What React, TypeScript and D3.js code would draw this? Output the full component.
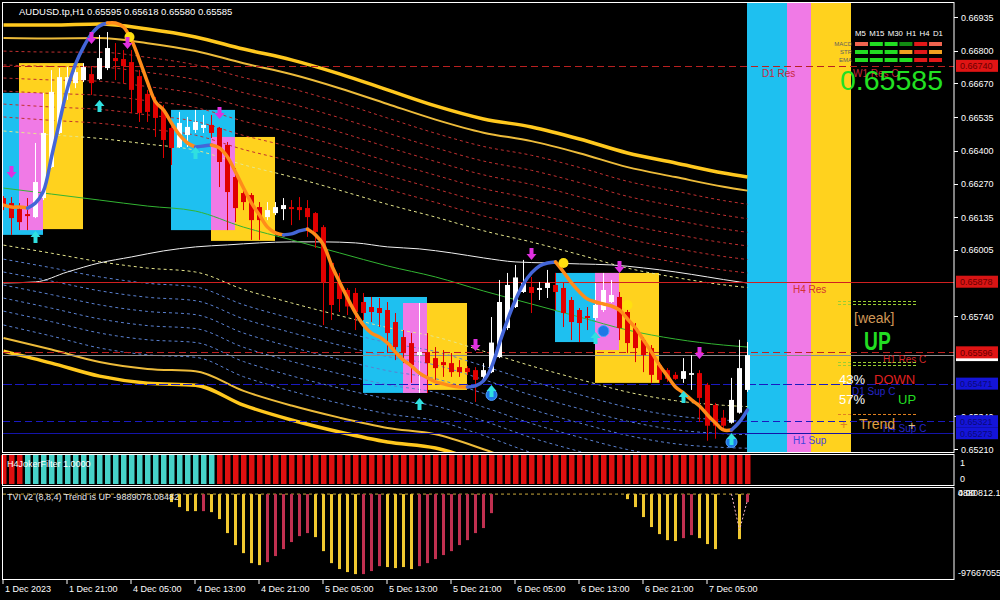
import React from "react";
import * as d3 from "d3";

// ---------- DATA ----------
const TITLE = "AUDUSD.tp,H1  0.65595 0.65618 0.65580 0.65585";
const timeTickLabels = ["1 Dec 2023", "1 Dec 21:00", "4 Dec 05:00", "4 Dec 13:00", "4 Dec 21:00", "5 Dec 05:00", "5 Dec 13:00", "5 Dec 21:00", "6 Dec 05:00", "6 Dec 13:00", "6 Dec 21:00", "7 Dec 05:00"];
const timeTickBars = [0, 8, 16, 24, 32, 40, 48, 56, 64, 72, 80, 88];
// visible price-scale labels (those hidden behind coloured price boxes are not shown)
const priceTickLabels = ["0.66935", "0.66800", "0.66670", "0.66535", "0.66400", "0.66270", "0.66135", "0.66005", "0.65740", "0.65340", "0.65210"];

const opens = [0.66212,0.66192,0.66168,0.66148,0.66136,0.66212,0.66336,0.66472,0.66632,0.66671,0.66683,0.66707,0.66687,0.66731,0.66771,0.66767,0.66755,0.66699,0.66628,0.66596,0.66564,0.66492,0.66416,0.66464,0.66484,0.66492,0.66504,0.66492,0.66424,0.66296,0.66232,0.66224,0.66176,0.66136,0.66152,0.66168,0.66176,0.66176,0.66172,0.66152,0.66096,0.65953,0.65877,0.65845,0.65833,0.65797,0.65777,0.65773,0.65765,0.65717,0.65657,0.65633,0.65585,0.65597,0.65573,0.65557,0.65553,0.65537,0.65533,0.65525,0.65498,0.65517,0.65577,0.65693,0.65777,0.65837,0.65857,0.65845,0.65853,0.65865,0.65853,0.65805,0.65765,0.65741,0.65733,0.65765,0.65797,0.65817,0.65757,0.65693,0.65645,0.65613,0.65545,0.65525,0.65506,0.65490,0.65506,0.65513,0.65466,0.65386,0.65335,0.65315,0.65355,0.65446];
const highs = [0.66220,0.66216,0.66192,0.66212,0.66432,0.66632,0.66723,0.66731,0.66735,0.66735,0.66751,0.66735,0.66863,0.66875,0.66831,0.66803,0.66803,0.66723,0.66644,0.66616,0.66584,0.66504,0.66556,0.66536,0.66564,0.66544,0.66544,0.66496,0.66436,0.66332,0.66256,0.66232,0.66196,0.66196,0.66196,0.66212,0.66204,0.66216,0.66204,0.66156,0.66104,0.65957,0.65913,0.65853,0.65853,0.65833,0.65817,0.65813,0.65797,0.65753,0.65685,0.65673,0.65793,0.65673,0.65617,0.65605,0.65593,0.65565,0.65541,0.65537,0.65553,0.65737,0.65885,0.65913,0.65945,0.65965,0.65897,0.65877,0.65925,0.65913,0.65873,0.65817,0.65773,0.65777,0.65873,0.65913,0.65885,0.65837,0.65777,0.65713,0.65657,0.65625,0.65557,0.65533,0.65517,0.65573,0.65585,0.65525,0.65474,0.65394,0.65366,0.65494,0.65646,0.65637];
const lows = [0.66164,0.66065,0.66084,0.66084,0.66132,0.66204,0.66332,0.66468,0.66604,0.66651,0.66675,0.66624,0.66683,0.66723,0.66683,0.66671,0.66552,0.66516,0.66516,0.66456,0.66372,0.66344,0.66412,0.66416,0.66472,0.66472,0.66452,0.66256,0.66084,0.66116,0.66164,0.66045,0.66045,0.66124,0.66144,0.66124,0.66104,0.66124,0.66057,0.66013,0.65705,0.65725,0.65757,0.65745,0.65685,0.65725,0.65717,0.65697,0.65593,0.65565,0.65553,0.65474,0.65434,0.65434,0.65486,0.65498,0.65498,0.65498,0.65506,0.65398,0.65486,0.65513,0.65573,0.65685,0.65773,0.65833,0.65753,0.65805,0.65813,0.65765,0.65697,0.65645,0.65637,0.65685,0.65725,0.65757,0.65793,0.65645,0.65593,0.65557,0.65517,0.65474,0.65474,0.65478,0.65486,0.65474,0.65446,0.65318,0.65243,0.65251,0.65286,0.65311,0.65351,0.65438];
const closes = [0.66184,0.66132,0.66116,0.66140,0.66276,0.66472,0.66636,0.66695,0.66695,0.66715,0.66735,0.66671,0.66771,0.66811,0.66759,0.66739,0.66644,0.66552,0.66556,0.66532,0.66444,0.66412,0.66512,0.66496,0.66516,0.66504,0.66472,0.66356,0.66236,0.66172,0.66196,0.66124,0.66124,0.66164,0.66176,0.66184,0.66168,0.66164,0.66136,0.66077,0.65877,0.65785,0.65809,0.65779,0.65757,0.65753,0.65757,0.65753,0.65673,0.65617,0.65593,0.65545,0.65597,0.65553,0.65533,0.65545,0.65517,0.65517,0.65517,0.65486,0.65525,0.65635,0.65797,0.65865,0.65895,0.65873,0.65833,0.65853,0.65873,0.65837,0.65753,0.65717,0.65713,0.65733,0.65785,0.65845,0.65825,0.65693,0.65633,0.65613,0.65585,0.65506,0.65486,0.65490,0.65490,0.65521,0.65513,0.65414,0.65303,0.65303,0.65303,0.65406,0.65533,0.65585];

// smoothed trend line (blue rising / orange falling)
const trendLine = [0.66184,0.66176,0.66176,0.66172,0.66192,0.66240,0.66376,0.66516,0.66651,0.66747,0.66815,0.66867,0.66899,0.66911,0.66911,0.66895,0.66843,0.66763,0.66675,0.66596,0.66564,0.66512,0.66464,0.66432,0.66416,0.66420,0.66424,0.66412,0.66376,0.66316,0.66252,0.66192,0.66144,0.66096,0.66073,0.66065,0.66069,0.66081,0.66088,0.66065,0.66025,0.65945,0.65877,0.65813,0.65753,0.65705,0.65673,0.65657,0.65633,0.65597,0.65565,0.65541,0.65513,0.65494,0.65478,0.65470,0.65462,0.65458,0.65458,0.65462,0.65482,0.65537,0.65633,0.65725,0.65805,0.65869,0.65913,0.65941,0.65953,0.65957,0.65917,0.65873,0.65837,0.65809,0.65797,0.65789,0.65781,0.65765,0.65729,0.65693,0.65645,0.65597,0.65545,0.65501,0.65458,0.65434,0.65406,0.65382,0.65346,0.65314,0.65286,0.65286,0.65318,0.65366];

// envelope bands around a centre MA
const bandBars = [0, 6, 12, 18, 24, 30, 36, 42, 48, 54, 60, 66, 72, 78, 84, 90, 93];
const bandCenter = [0.66252,0.66228,0.66204,0.66180,0.66160,0.66096,0.66045,0.65993,0.65941,0.65897,0.65841,0.65789,0.65737,0.65685,0.65649,0.65625,0.65617];
const bandWidth = [0.00651,0.00675,0.00703,0.00707,0.00695,0.00711,0.00719,0.00715,0.00703,0.00683,0.00687,0.00707,0.00711,0.00707,0.00703,0.00687,0.00679];
const bandLevels = [0.35, 0.436, 0.515, 0.595, 0.675, 0.755, 0.84, 0.92, 1.0];

// slow white MA
const maBars = [0,4,8,12,16,20,24,28,32,36,40,44,48,52,56,60,64,68,72,76,80,84,88,92,93];
const maValues = [0.65873,0.65877,0.65917,0.65953,0.65977,0.66001,0.66017,0.66025,0.66033,0.66037,0.66037,0.66033,0.66017,0.66009,0.65993,0.65973,0.65957,0.65953,0.65949,0.65945,0.65933,0.65917,0.65897,0.65877,0.65873];

// zone boxes: [fromBar, toBar, topPrice, bottomPrice]
const cyanBoxes = [[0, 5, 0.66632, 0.66065], [21, 29, 0.66564, 0.66084], [45, 53, 0.65817, 0.65434], [69, 74, 0.65913, 0.65637]];
const yellowBoxes = [[2, 10, 0.66751, 0.66088], [26, 34, 0.66456, 0.66041], [50, 58, 0.65793, 0.65446], [74, 82, 0.65913, 0.65474]];
const pinkBoxes = [[2, 5, 0.66632, 0.66084], [26, 29, 0.66456, 0.66084], [50, 53, 0.65793, 0.65434], [74, 77, 0.65913, 0.65605]];
const rightZones = [[93, 98, "#1EC0F0"], [98, 101, "#F07AE6"], [101, 106, "#FFD21E"]];

// signals: [bar, price]
const sellArrows = [[1, 0.66316], [11, 0.66851], [15.5, 0.66831], [27, 0.66552], [59, 0.65625], [66, 0.65989], [77, 0.65937], [87, 0.65593]];
const buyArrows = [[4, 0.66057], [12, 0.6658], [24, 0.66392], [52, 0.6539], [61, 0.65442], [74, 0.65653], [85, 0.65418], [91, 0.6525]];
const yellowDots = [[15.75, 0.66855], [70, 0.65953], [78, 0.65785]];
const blueDots = [[61, 0.65426], [75, 0.65681], [91, 0.65238]];

// support / resistance levels
const levelPrices = [0.6674, 0.65878, 0.65596, 0.65471, 0.65321, 0.65273];
const levelNames = ["D1 Res", "H4 Res", "H1 Res C", "D1 Sup C", "H4 Sup C", "H1 Sup"];
const levelLabelX = [762, 793, 883, 852, 883, 793];
const bidPrice = 0.65585;

// MTF panel
const mtfHeader = "M5 M15 M30 H1 H4 D1";
const mtfRowNames = ["MACD", "STR", "EMA"];
const mtfRows = [
  ["#F06450", "#22DD22", "#22DD22", "#128A12", "#E01818", "#F06450"],
  ["#22DD22", "#22DD22", "#22DD22", "#F0A020", "#E01818", "#F0A020"],
  ["#22DD22", "#22DD22", "#22DD22", "#22DD22", "#E01818", "#E01818"],
];

// H4 Joker filter states (runs)
const jokerRuns = [[0, 2, "down"], [3, 26, "up"], [27, 93, "down"]];

// TVI histogram (millions)
const tviValues = [0,0,0,0,0,0,0,0,0,0,0,0,0,0,0,0,0,0,0,0,0,-9.5,-15.5,-20.3,-20.3,-20.3,-21.5,-29.8,-46.5,-60.8,-70.4,-82.3,-84.7,-81.1,-73.9,-65.6,-57.2,-50.1,-46.5,-51.3,-68.0,-82.3,-89.4,-93.0,-95.4,-95.4,-91.8,-85.9,-87.0,-88.2,-87.0,-89.4,-85.9,-82.3,-77.5,-72.7,-68.0,-60.8,-54.9,-46.5,-40.5,-22.7,0,0,0,0,0,0,0,0,0,0,0,0,0,0,0,0,-6.0,-15.5,-27.4,-39.3,-47.7,-54.9,-56.0,-52.5,-48.9,-52.5,-59.6,-65.6,0,0,-53.7,-9.5];
const tviRedBars = [25,33,34,35,36,37,38,45,46,47,52,53,54,55,56,57,58,59,60,61,85,86,93];
const tviSignalBars = [91, 92, 93];
const tviSignalValues = [0, -43, -7];

// ---------- COMPONENT ----------
const FONT = "'Liberation Sans', Arial, sans-serif";

export default function App() {
  const x = d3.scaleLinear().domain([0, 93]).range([3.5, 747.5]);
  const y = d3.scaleLinear().domain([0.6521, 0.66935]).range([449, 17]);
  const yTvi = d3.scaleLinear().domain([-97.667055, 4.8808121]).range([576, 490]);
  const yJok = d3.scaleLinear().domain([0, 1]).range([484, 455]);
  const edge = (k: number) => x(k) - 0.5;

  const n = closes.length;

  const bandPaths: any[] = [];
  [1, -1].forEach((side) => {
    bandLevels.forEach((f, k) => {
      const pts = bandBars.map((b, j) => [x(b), y(bandCenter[j] + side * f * bandWidth[j])] as [number, number]);
      const d = d3.line().curve(d3.curveMonotoneX)(pts) || "";
      let stroke = "#E6E68C", sw = 1, dash = "3,3";
      if (k >= 1 && k <= 6) stroke = side > 0 ? "#C03030" : "#5A80D0";
      if (k === 7) { stroke = "#EDBB3A"; sw = 2; dash = ""; }
      if (k === 8) { stroke = "#FFC81E"; sw = 3.5; dash = ""; }
      bandPaths.push(<path key={`b${side}${k}`} d={d} fill="none" stroke={stroke} strokeWidth={sw} strokeDasharray={dash || undefined} />);
    });
  });
  const centerPath = d3.line().curve(d3.curveMonotoneX)(bandBars.map((b, j) => [x(b), y(bandCenter[j])] as [number, number])) || "";
  const maPath = d3.line().curve(d3.curveMonotoneX)(maBars.map((b, j) => [x(b), y(maValues[j])] as [number, number])) || "";

  const dir = (i: number) => (trendLine[i + 1] > trendLine[i] ? 1 : -1);
  const runs: [number, number, number][] = [];
  let start = 0;
  for (let i = 1; i < n - 1; i++) {
    if (dir(i) !== dir(i - 1)) { runs.push([start, i, dir(start)]); start = i; }
  }
  runs.push([start, n - 1, dir(start)]);
  const trendGen = d3.line<number>().x((i) => x(i)).y((i) => y(trendLine[i])).curve(d3.curveCatmullRom);

  const upArrow = (cx: number, cy: number) => `M${cx},${cy - 6} L${cx + 5},${cy} L${cx + 2},${cy} L${cx + 2},${cy + 6} L${cx - 2},${cy + 6} L${cx - 2},${cy} L${cx - 5},${cy} Z`;
  const downArrow = (cx: number, cy: number) => `M${cx},${cy + 6} L${cx + 5},${cy} L${cx + 2},${cy} L${cx + 2},${cy - 6} L${cx - 2},${cy - 6} L${cx - 2},${cy} L${cx - 5},${cy} Z`;

  const levelStyles = [
    { c: "#B82020", dash: "7,4", lc: "#C8283C" },
    { c: "#D02020", dash: "", lc: "#D23232" },
    { c: "#C02020", dash: "7,4", lc: "#D22828" },
    { c: "#1A1AC0", dash: "9,3", lc: "#2424C8" },
    { c: "#1A1AC0", dash: "7,4", lc: "#2424C8" },
    { c: "#1414A8", dash: "", lc: "#4444DD" },
  ];
  const boxFills = ["#E01414", "#D81414", "#E01414", "#1414D8", "#1414D8", "#1414D8"];
  const boxText = ["#6A0000", "#6A0000", "#6A0000", "#0A0A78", "#0A0A78", "#0A0A78"];

  const jokerColor = (i: number) => {
    const r = jokerRuns.find((r) => i >= (r[0] as number) && i <= (r[1] as number));
    return r && r[2] === "up" ? "#46D2C8" : "#E01010";
  };

  const tviSignalPath = d3.line<number>().x((i) => x(tviSignalBars[i])).y((i) => yTvi(tviSignalValues[i]))(tviSignalBars.map((_, i) => i)) || "";

  return (
    <svg width={1000} height={600} style={{ position: "fixed", left: 0, top: 0, background: "#000" }} fontFamily={FONT}>
      <rect x={0} y={0} width={1000} height={600} fill="#000" />
      <defs>
        <clipPath id="mainClip"><rect x={3} y={3} width={951} height={449} /></clipPath>
      </defs>

      <g clipPath="url(#mainClip)">
        {cyanBoxes.map((b, i) => (
          <rect key={`c${i}`} x={edge(b[0])} y={y(b[2])} width={edge(b[1]) - edge(b[0])} height={y(b[3]) - y(b[2])} fill="#1EC0F0" />
        ))}
        {yellowBoxes.map((b, i) => (
          <rect key={`y${i}`} x={edge(b[0])} y={y(b[2])} width={edge(b[1]) - edge(b[0])} height={y(b[3]) - y(b[2])} fill="#FFD21E" />
        ))}
        {pinkBoxes.map((b, i) => (
          <rect key={`p${i}`} x={edge(b[0])} y={y(b[2])} width={edge(b[1]) - edge(b[0])} height={y(b[3]) - y(b[2])} fill="#F07AE6" />
        ))}
        {rightZones.map((z, i) => (
          <rect key={`z${i}`} x={edge(z[0] as number)} y={3} width={edge(z[1] as number) - edge(z[0] as number)} height={449} fill={z[2] as string} />
        ))}

        {bandPaths}
        <path d={maPath} fill="none" stroke="#F0F0F0" strokeWidth={1} />
        <path d={centerPath} fill="none" stroke="#32B432" strokeWidth={1} />

        {levelPrices.map((p, i) => (
          <line key={`l${i}`} x1={3} x2={954} y1={Math.round(y(p)) + 0.5} y2={Math.round(y(p)) + 0.5} stroke={levelStyles[i].c} strokeWidth={1} strokeDasharray={levelStyles[i].dash || undefined} />
        ))}
        <line x1={3} x2={954} y1={Math.round(y(bidPrice)) + 0.5} y2={Math.round(y(bidPrice)) + 0.5} stroke="#8C8C8C" strokeWidth={1} />

        {closes.map((c, i) => {
          const o = opens[i];
          const up = c >= o;
          const col = up ? "#FFFFFF" : "#E00000";
          const cx = x(i);
          const top = y(Math.max(o, c));
          const bh = Math.max(1, y(Math.min(o, c)) - top);
          return (
            <g key={`k${i}`}>
              <rect x={cx - 0.5} y={y(highs[i])} width={1} height={Math.max(1, y(lows[i]) - y(highs[i]))} fill={col} />
              <rect x={cx - 2.5} y={top} width={5} height={bh} fill={col} />
            </g>
          );
        })}

        {runs.map((r, i) => {
          const idx = d3.range(r[0], r[1] + 1);
          return <path key={`t${i}`} d={trendGen(idx) || ""} fill="none" stroke={r[2] > 0 ? "#4466D8" : "#FF8C1A"} strokeWidth={3.5} strokeLinecap="round" />;
        })}

        {yellowDots.map((d, i) => <circle key={`yd${i}`} cx={x(d[0])} cy={y(d[1])} r={5} fill="#FFE010" />)}
        {blueDots.map((d, i) => <circle key={`bd${i}`} cx={x(d[0])} cy={y(d[1])} r={5.5} fill="#1E78E6" stroke="#50A0FF" strokeWidth={1} />)}
        {sellArrows.map((a, i) => <path key={`sa${i}`} d={downArrow(x(a[0]), y(a[1]))} fill="#E030E0" />)}
        {buyArrows.map((a, i) => <path key={`ba${i}`} d={upArrow(x(a[0]), y(a[1]))} fill="#30E0E0" />)}

        {levelPrices.map((p, i) => (
          <text key={`ll${i}`} x={levelLabelX[i]} y={y(p) + 11} fontSize={10} fill={levelStyles[i].lc}>{levelNames[i]}</text>
        ))}
        <text x={853} y={y(0.6674) + 11} fontSize={10} fill="#C8283C">W1 Res C</text>
      </g>

      {/* title */}
      <text x={19} y={15} fontSize={9.5} fill="#FFFFFF">{TITLE}</text>

      {/* MTF panel */}
      <text x={855} y={36} fontSize={7.8} fill="#FFFFFF" wordSpacing={1.2}>{mtfHeader}</text>
      {mtfRows.map((row, r) => (
        <g key={`mr${r}`}>
          <text x={852} y={46 + r * 8} fontSize={6} fill="#5E5E5E" textAnchor="end">{mtfRowNames[r]}</text>
          {row.map((c, j) => (
            <rect key={j} x={855 + j * 14.8} y={42 + r * 8} width={13} height={4} fill={c} />
          ))}
        </g>
      ))}
      <text x={840} y={90} fontSize={28.5} fill="#22E022">0.65585</text>

      {/* signal text panel */}
      <line x1={838} x2={916} y1={301.5} y2={301.5} stroke="#9ACD32" strokeDasharray="3,2" />
      <line x1={838} x2={916} y1={304.5} y2={304.5} stroke="#9ACD32" strokeDasharray="3,2" />
      <text x={854} y={323} fontSize={14} fill="#D09858">[weak]</text>
      <text transform="translate(864,350) scale(0.74,1)" fontSize={26} fontWeight="bold" fill="#22DD22">UP</text>
      <line x1={838} x2={916} y1={362.5} y2={362.5} stroke="#9ACD32" strokeDasharray="3,2" />
      <line x1={838} x2={916} y1={365.5} y2={365.5} stroke="#9ACD32" strokeDasharray="3,2" />
      <text x={839} y={384} fontSize={13} fill="#FFFFFF">43%</text>
      <text x={874} y={384} fontSize={13} fill="#E02020">DOWN</text>
      <text x={839} y={404} fontSize={13} fill="#FFFFFF">57%</text>
      <text x={898} y={404} fontSize={13} fill="#22DD22">UP</text>
      <line x1={838} x2={916} y1={414.5} y2={414.5} stroke="#E08020" strokeDasharray="3,2" />
      <text x={840} y={429} fontSize={13} fill="#E08020">+</text>
      <text x={859} y={429} fontSize={14} fill="#E0A040">Trend</text>
      <text x={908} y={430} fontSize={13} fill="#E0C080">+</text>

      {/* Joker panel */}
      {closes.map((_, i) => (
        <rect key={`j${i}`} x={x(i) - 2.5} y={yJok(1)} width={5.5} height={yJok(0) - yJok(1)} fill={jokerColor(i)} />
      ))}
      <text x={7} y={467} fontSize={9} fill="#FFFFFF">H4JokerFilter 1.0000</text>

      {/* TVI panel */}
      <line x1={3} x2={750} y1={yTvi(0)} y2={yTvi(0)} stroke="#C8A83C" strokeDasharray="3,3" />
      {tviValues.map((v, i) =>
        v < 0 ? (
          <rect key={`v${i}`} x={x(i) - 1.5} y={yTvi(0)} width={3} height={yTvi(v) - yTvi(0)} fill={tviRedBars.includes(i) ? "#C03050" : "#F0C830"} />
        ) : null
      )}
      <path d={tviSignalPath} fill="none" stroke="#F0B4C4" strokeWidth={1} strokeDasharray="2,2" />
      <text x={7} y={500} fontSize={9} fill="#E6E6E6">TVI v2 (8,8,4) Trend is UP -9889078.08482</text>

      {/* panel frames */}
      <rect x={2.5} y={2.5} width={951.5} height={450} fill="none" stroke="#FFFFFF" />
      <rect x={2.5} y={454.5} width={951.5} height={31} fill="none" stroke="#FFFFFF" />
      <rect x={2.5} y={487.5} width={951.5} height={92} fill="none" stroke="#FFFFFF" />

      {/* price axis */}
      {priceTickLabels.map((t, i) => (
        <g key={`pt${i}`}>
          <line x1={954} x2={958} y1={Math.round(y(+t)) + 0.5} y2={Math.round(y(+t)) + 0.5} stroke="#FFFFFF" />
          <text x={961} y={y(+t) + 3.5} fontSize={9} fill="#FFFFFF">{t}</text>
        </g>
      ))}
      <rect x={956} y={y(bidPrice) - 6} width={42} height={12} fill="#FFFFFF" />
      {levelPrices.map((p, i) => (
        <g key={`pb${i}`}>
          <rect x={956} y={y(p) - 6} width={42} height={12} fill={boxFills[i]} />
          <text x={960} y={y(p) + 3.5} fontSize={9} fill={boxText[i]}>{p.toFixed(5)}</text>
        </g>
      ))}
      <text x={960} y={466} fontSize={9} fill="#FFFFFF">1</text>
      <text x={960} y={482} fontSize={9} fill="#FFFFFF">0</text>
      <text x={958} y={496} fontSize={9} fill="#FFFFFF">0.00</text>
      <text x={958} y={496} fontSize={9} fill="#FFFFFF">4880812.1</text>
      <text x={958} y={576} fontSize={9} fill="#FFFFFF">-97667055</text>

      {/* time axis */}
      {timeTickBars.map((b, i) => (
        <g key={`tt${i}`}>
          <line x1={edge(b)} x2={edge(b)} y1={580} y2={584} stroke="#FFFFFF" />
          <text x={edge(b) + 2} y={592} fontSize={9} fill="#FFFFFF">{timeTickLabels[i]}</text>
        </g>
      ))}
    </svg>
  );
}
